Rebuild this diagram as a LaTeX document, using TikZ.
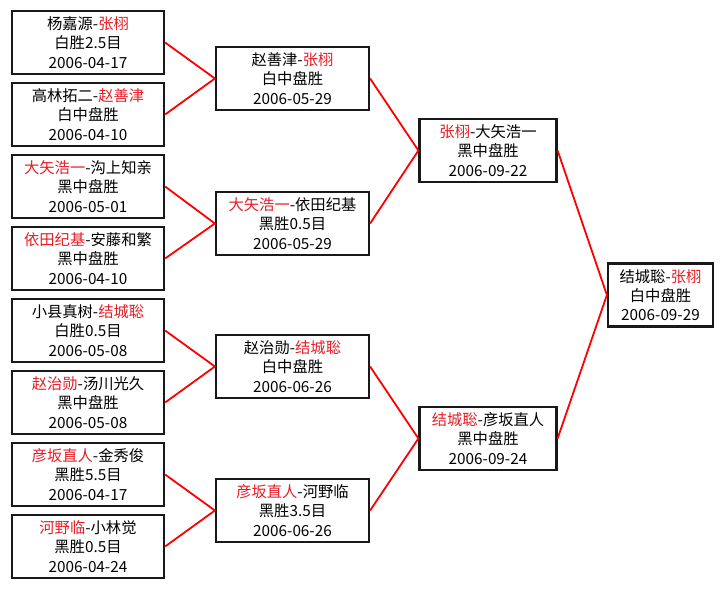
\documentclass[tikz,border=0pt]{standalone}
\usepackage{fontspec}
\setmainfont{Noto Sans CJK SC}
\definecolor{myred}{RGB}{230,30,40}
\definecolor{boxline}{RGB}{25,25,25}
\newcommand\rn[1]{\textcolor{myred}{#1}}
\begin{document}
\begin{tikzpicture}[x=1pt,y=-1pt,
  match/.style={draw=boxline, line width=2.2pt, fill=white, inner sep=0pt,
    minimum height=63pt, align=center, font=\fontsize{15.3}{19.2}\selectfont},
  c1box/.style={match, minimum width=152pt},
  c2box/.style={match, minimum width=153pt},
  c3box/.style={match, minimum width=137pt},
  c4box/.style={match, minimum width=105pt},
  link/.style={draw=red, line width=1.8pt}]
\fill[white] (0,0) rectangle (723,589);
\useasboundingbox (0,0) rectangle (723,589);
% first round
\node[c1box] (a1) at (88,42.5)  {杨嘉源-\rn{张栩}\\白胜2.5目\\2006-04-17};
\node[c1box] (a2) at (88,114.5) {高林拓二-\rn{赵善津}\\白中盘胜\\2006-04-10};
\node[c1box] (a3) at (88,186.5) {\rn{大矢浩一}-沟上知亲\\黑中盘胜\\2006-05-01};
\node[c1box] (a4) at (88,258.5) {\rn{依田纪基}-安藤和繁\\黑中盘胜\\2006-04-10};
\node[c1box] (a5) at (88,330.5) {小县真树-\rn{结城聡}\\白胜0.5目\\2006-05-08};
\node[c1box] (a6) at (88,402.5) {\rn{赵治勋}-汤川光久\\黑中盘胜\\2006-05-08};
\node[c1box] (a7) at (88,474.5) {\rn{彦坂直人}-金秀俊\\黑胜5.5目\\2006-04-17};
\node[c1box] (a8) at (88,546.5) {\rn{河野临}-小林觉\\黑胜0.5目\\2006-04-24};
% second round
\node[c2box] (b1) at (292.5,78.5)  {赵善津-\rn{张栩}\\白中盘胜\\2006-05-29};
\node[c2box] (b2) at (292.5,223.5) {\rn{大矢浩一}-依田纪基\\黑胜0.5目\\2006-05-29};
\node[c2box] (b3) at (292.5,366.5) {赵治勋-\rn{结城聡}\\白中盘胜\\2006-06-26};
\node[c2box] (b4) at (292.5,510.5) {\rn{彦坂直人}-河野临\\黑胜3.5目\\2006-06-26};
% semifinals
\node[c3box] (c1) at (488,150.5) {\rn{张栩}-大矢浩一\\黑中盘胜\\2006-09-22};
\node[c3box] (c2) at (488,438.5) {\rn{结城聡}-彦坂直人\\黑中盘胜\\2006-09-24};
% final
\node[c4box] (d) at (660.5,295) {结城聡-\rn{张栩}\\白中盘胜\\2006-09-29};
% connectors
\draw[link] (a1.east) -- (b1.west) -- (a2.east);
\draw[link] (a3.east) -- (b2.west) -- (a4.east);
\draw[link] (a5.east) -- (b3.west) -- (a6.east);
\draw[link] (a7.east) -- (b4.west) -- (a8.east);
\draw[link] (b1.east) -- (c1.west) -- (b2.east);
\draw[link] (b3.east) -- (c2.west) -- (b4.east);
\draw[link] (c1.east) -- (d.west) -- (c2.east);
\end{tikzpicture}
\end{document}
